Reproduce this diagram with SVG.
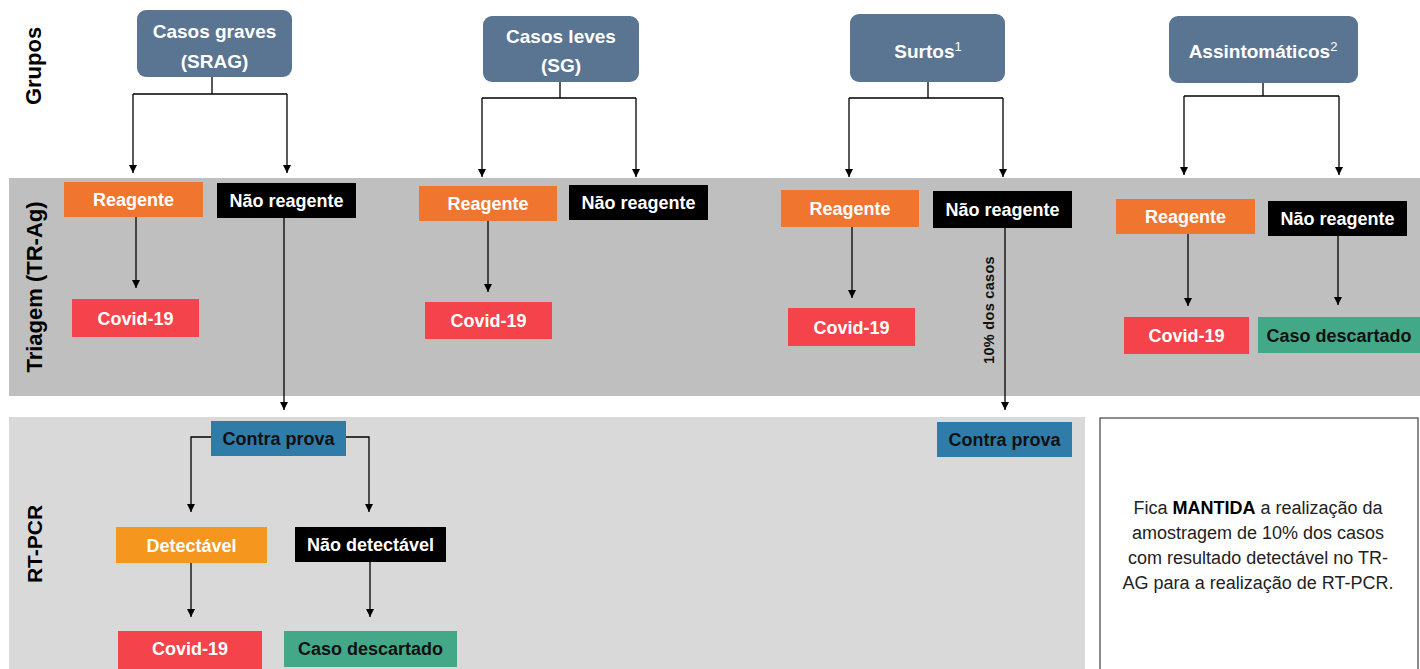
<svg xmlns="http://www.w3.org/2000/svg" width="1420" height="669" viewBox="0 0 1420 669">
<style>
text{font-family:"Liberation Sans",Arial,sans-serif;}
.grp{fill:#5a7592;}
.gt{fill:#ffffff;font-size:19px;font-weight:bold;text-anchor:middle;}
.bt{fill:#ffffff;font-size:18px;font-weight:bold;text-anchor:middle;}
.dt{fill:#111111;font-size:18px;font-weight:bold;text-anchor:middle;}
.orange{fill:#f07630;}
.black{fill:#000000;}
.red{fill:#f4434a;}
.green{fill:#43a888;}
.blue{fill:#2f7ca8;}
.yellow{fill:#f5961f;}
.lane{fill:#000000;font-size:22px;font-weight:bold;text-anchor:middle;}
.conn{fill:none;stroke:#000000;stroke-width:1.3;}
.note{fill:#222222;font-size:18px;text-anchor:middle;}
.sup{font-size:13px;font-weight:normal;}
</style>
<defs>
<marker id="arr" viewBox="0 0 10 10" refX="10" refY="5" markerWidth="9" markerHeight="8" markerUnits="userSpaceOnUse" orient="auto">
<path d="M0,0 L10,5 L0,10 z" fill="#000000"/>
</marker>
</defs>
<rect width="1420" height="669" fill="#ffffff"/>
<g id="bands">
<rect x="9" y="178" width="1411" height="218" fill="#bfbfbf"/>
<rect x="9" y="417" width="1076" height="252" fill="#d9d9d9"/>
</g>
<g id="lane-labels">
<text class="lane" transform="translate(41,66) rotate(-90)">Grupos</text>
<text class="lane" transform="translate(42,287) rotate(-90)">Triagem (TR-Ag)</text>
<text class="lane" style="font-size:21px" transform="translate(42,544) rotate(-90)">RT-PCR</text>
</g>
<g id="connectors">
<path class="conn" d="M212,77 V94 M133,94 H287"/>
<path class="conn" d="M133,94 V173" marker-end="url(#arr)"/>
<path class="conn" d="M287,94 V173" marker-end="url(#arr)"/>
<path class="conn" d="M560,82 V98 M482,98 H636"/>
<path class="conn" d="M482,98 V177" marker-end="url(#arr)"/>
<path class="conn" d="M636,98 V177" marker-end="url(#arr)"/>
<path class="conn" d="M928,82 V98 M849,98 H1003"/>
<path class="conn" d="M849,98 V177" marker-end="url(#arr)"/>
<path class="conn" d="M1003,98 V177" marker-end="url(#arr)"/>
<path class="conn" d="M1263,83 V96 M1184,96 H1339"/>
<path class="conn" d="M1184,96 V175" marker-end="url(#arr)"/>
<path class="conn" d="M1339,96 V175" marker-end="url(#arr)"/>
<path class="conn" d="M136,217 V288" marker-end="url(#arr)"/>
<path class="conn" d="M284,218 V410" marker-end="url(#arr)"/>
<path class="conn" d="M488,221 V292" marker-end="url(#arr)"/>
<path class="conn" d="M852,227 V298" marker-end="url(#arr)"/>
<path class="conn" d="M1005,228 V410" marker-end="url(#arr)"/>
<path class="conn" d="M1188,234 V306" marker-end="url(#arr)"/>
<path class="conn" d="M1338,236 V305" marker-end="url(#arr)"/>
<path class="conn" d="M211,437 H191 V512" marker-end="url(#arr)"/>
<path class="conn" d="M346,437 H369 V512" marker-end="url(#arr)"/>
<path class="conn" d="M191,563 V617" marker-end="url(#arr)"/>
<path class="conn" d="M370,562 V617" marker-end="url(#arr)"/>
<text transform="translate(994,310) rotate(-90)" style="font-size:14.5px;font-weight:bold;fill:#111111;text-anchor:middle;letter-spacing:0.3px">10% dos casos</text>
</g>
<g id="g-srag">
<rect class="grp" x="137" y="10" width="155" height="67" rx="9"/>
<text class="gt" x="214.5" y="38">Casos graves</text>
<text class="gt" x="214.5" y="68">(SRAG)</text>
</g>
<g id="g-sg">
<rect class="grp" x="483" y="16" width="156" height="66" rx="9"/>
<text class="gt" x="561" y="43">Casos leves</text>
<text class="gt" x="561" y="72">(SG)</text>
</g>
<g id="g-surtos">
<rect class="grp" x="850" y="14" width="155" height="68" rx="9"/>
<text class="gt" x="928" y="58">Surtos<tspan class="sup" dy="-7">1</tspan></text>
</g>
<g id="g-assint">
<rect class="grp" x="1169" y="16" width="189" height="67" rx="9"/>
<text class="gt" x="1263" y="58">Assintomáticos<tspan class="sup" dy="-7">2</tspan></text>
</g>
<g id="srag-reagente"><rect class="orange" x="64" y="182" width="139" height="35"/><text class="bt" x="133.5" y="206">Reagente</text></g>
<g id="srag-nao-reagente"><rect class="black" x="217" y="183" width="139" height="35"/><text class="bt" x="286.5" y="207">Não reagente</text></g>
<g id="srag-covid"><rect class="red" x="72" y="299" width="127" height="38"/><text class="bt" x="135.5" y="324.5">Covid-19</text></g>
<g id="sg-reagente"><rect class="orange" x="419" y="186" width="138" height="35"/><text class="bt" x="488" y="210">Reagente</text></g>
<g id="sg-nao-reagente"><rect class="black" x="569" y="185" width="139" height="35"/><text class="bt" x="638.5" y="209">Não reagente</text></g>
<g id="sg-covid"><rect class="red" x="425" y="302" width="127" height="37"/><text class="bt" x="488.5" y="327">Covid-19</text></g>
<g id="surtos-reagente"><rect class="orange" x="781" y="190" width="138" height="37"/><text class="bt" x="850" y="215">Reagente</text></g>
<g id="surtos-nao-reagente"><rect class="black" x="933" y="191" width="139" height="37"/><text class="bt" x="1002.5" y="216">Não reagente</text></g>
<g id="surtos-covid"><rect class="red" x="788" y="308" width="127" height="38"/><text class="bt" x="851.5" y="333.5">Covid-19</text></g>
<g id="assint-reagente"><rect class="orange" x="1116" y="199" width="139" height="35"/><text class="bt" x="1185.5" y="223">Reagente</text></g>
<g id="assint-nao-reagente"><rect class="black" x="1268" y="201" width="139" height="35"/><text class="bt" x="1337.5" y="225">Não reagente</text></g>
<g id="assint-covid"><rect class="red" x="1124" y="317" width="125" height="37"/><text class="bt" x="1186.5" y="342">Covid-19</text></g>
<g id="assint-descartado"><rect class="green" x="1258" y="317" width="162" height="36"/><text class="dt" x="1339" y="341.5">Caso descartado</text></g>
<g id="contra-prova-1"><rect class="blue" x="211" y="421" width="135" height="35"/><text class="dt" x="278.5" y="445">Contra prova</text></g>
<g id="contra-prova-2"><rect class="blue" x="937" y="422" width="135" height="35"/><text class="dt" x="1004.5" y="446">Contra prova</text></g>
<g id="detectavel"><rect class="yellow" x="116" y="527" width="151" height="36"/><text class="bt" x="191.5" y="551.5">Detectável</text></g>
<g id="nao-detectavel"><rect class="black" x="295" y="527" width="151" height="35"/><text class="bt" x="370.5" y="551">Não detectável</text></g>
<g id="rt-covid"><rect class="red" x="118" y="631" width="144" height="38"/><text class="bt" x="190" y="655">Covid-19</text></g>
<g id="rt-descartado"><rect class="green" x="284" y="631" width="173" height="36"/><text class="dt" x="370.5" y="655">Caso descartado</text></g>
<g id="note">
<rect x="1100" y="418" width="318" height="270" fill="#ffffff" stroke="#404040" stroke-width="1.2"/>
<text class="note" x="1258" y="514">Fica <tspan font-weight="bold" fill="#000000">MANTIDA</tspan> a realização da</text>
<text class="note" x="1258" y="539">amostragem de 10% dos casos</text>
<text class="note" x="1258" y="564">com resultado detectável no TR-</text>
<text class="note" x="1258" y="589">AG para a realização de RT-PCR.</text>
</g>
</svg>
